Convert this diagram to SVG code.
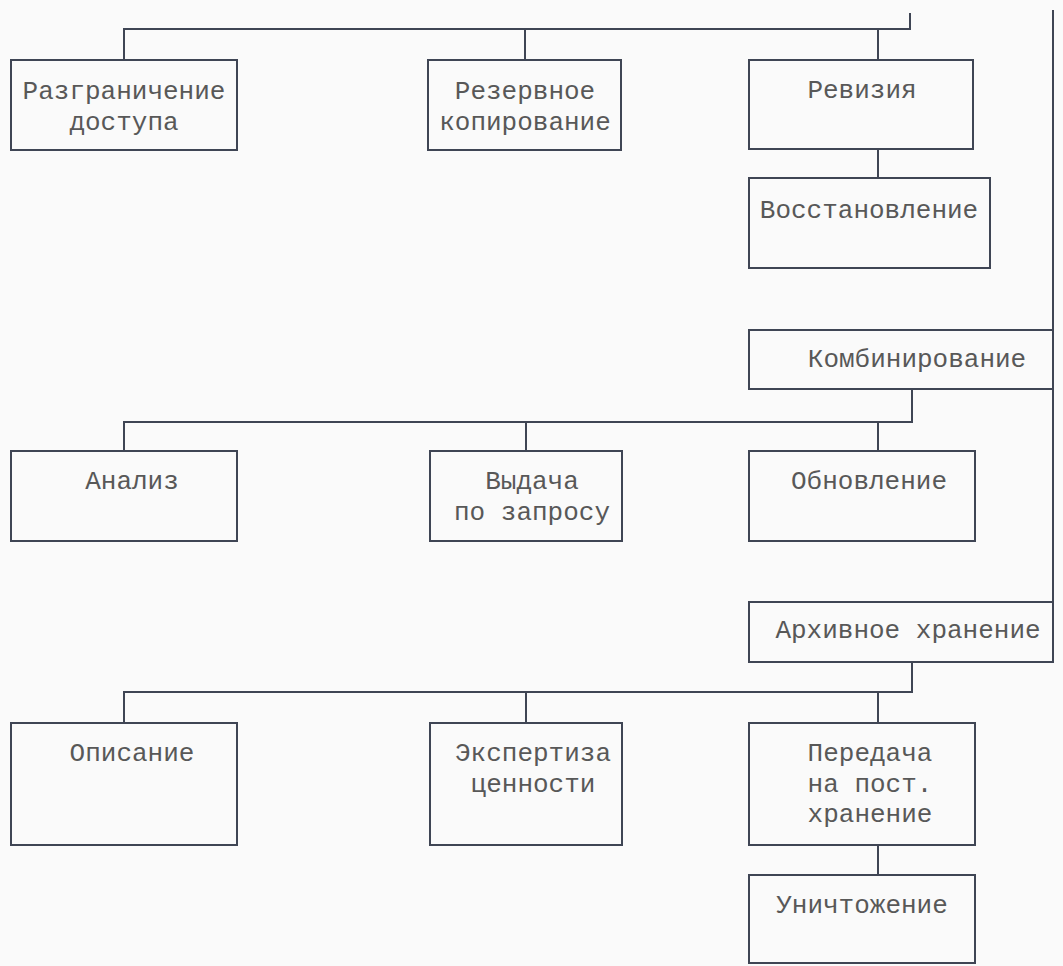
<svg xmlns="http://www.w3.org/2000/svg" width="1063" height="966" viewBox="0 0 1063 966">
<style>
.bg{fill:#fafafa}
.box{fill:#fafafa;stroke:#3f4554;stroke-width:2}
.ln{fill:none;stroke:#3f4554;stroke-width:2}
text{font-family:"Liberation Mono","Courier New",monospace;font-size:26px;fill:#585858;text-anchor:middle}
</style>
<rect class="bg" x="0" y="0" width="1063" height="966"/>
<g id="connectors">
<path class="ln" d="M124,60 V29 H910 V13"/>
<path class="ln" d="M525,29 V60"/>
<path class="ln" d="M878,29 V60"/>
<path class="ln" d="M878,149 V178"/>
<path class="ln" d="M1053,10 V330"/>
<path class="ln" d="M1053,389 V602"/>
<path class="ln" d="M912,389 V422 H124 V451"/>
<path class="ln" d="M526,422 V451"/>
<path class="ln" d="M878,422 V451"/>
<path class="ln" d="M912,662 V692 H124 V723"/>
<path class="ln" d="M526,692 V723"/>
<path class="ln" d="M878,692 V723"/>
<path class="ln" d="M878,845 V875"/>
</g>
<g id="n-razgr"><rect class="box" x="11" y="60" width="226" height="90"/><text x="124" y="99">Разграничение</text><text x="124" y="130">доступа</text></g>
<g id="n-rezerv"><rect class="box" x="428" y="60" width="193" height="90"/><text x="525" y="99">Резервное</text><text x="525" y="130">копирование</text></g>
<g id="n-reviz"><rect class="box" x="749" y="60" width="224" height="89"/><text x="862" y="98">Ревизия</text></g>
<g id="n-vosst"><rect class="box" x="749" y="178" width="241" height="90"/><text x="869" y="218">Восстановление</text></g>
<g id="n-komb"><rect class="box" x="749" y="330" width="304" height="59"/><text x="917" y="367">Комбинирование</text></g>
<g id="n-analiz"><rect class="box" x="11" y="451" width="226" height="90"/><text x="132" y="489">Анализ</text></g>
<g id="n-vydacha"><rect class="box" x="430" y="451" width="192" height="90"/><text x="532" y="489">Выдача</text><text x="532" y="520">по запросу</text></g>
<g id="n-obnovl"><rect class="box" x="749" y="451" width="226" height="90"/><text x="869" y="489">Обновление</text></g>
<g id="n-arhiv"><rect class="box" x="749" y="602" width="304" height="60"/><text x="908" y="638">Архивное хранение</text></g>
<g id="n-opisanie"><rect class="box" x="11" y="723" width="226" height="122"/><text x="132" y="761">Описание</text></g>
<g id="n-ekspert"><rect class="box" x="430" y="723" width="192" height="122"/><text x="533" y="761">Экспертиза</text><text x="533" y="792">ценности</text></g>
<g id="n-peredacha"><rect class="box" x="749" y="723" width="226" height="122"/><text x="870" y="761">Передача</text><text x="870" y="792">на пост.</text><text x="870" y="822">хранение</text></g>
<g id="n-unichtozh"><rect class="box" x="749" y="875" width="226" height="88"/><text x="862" y="913">Уничтожение</text></g>
</svg>
